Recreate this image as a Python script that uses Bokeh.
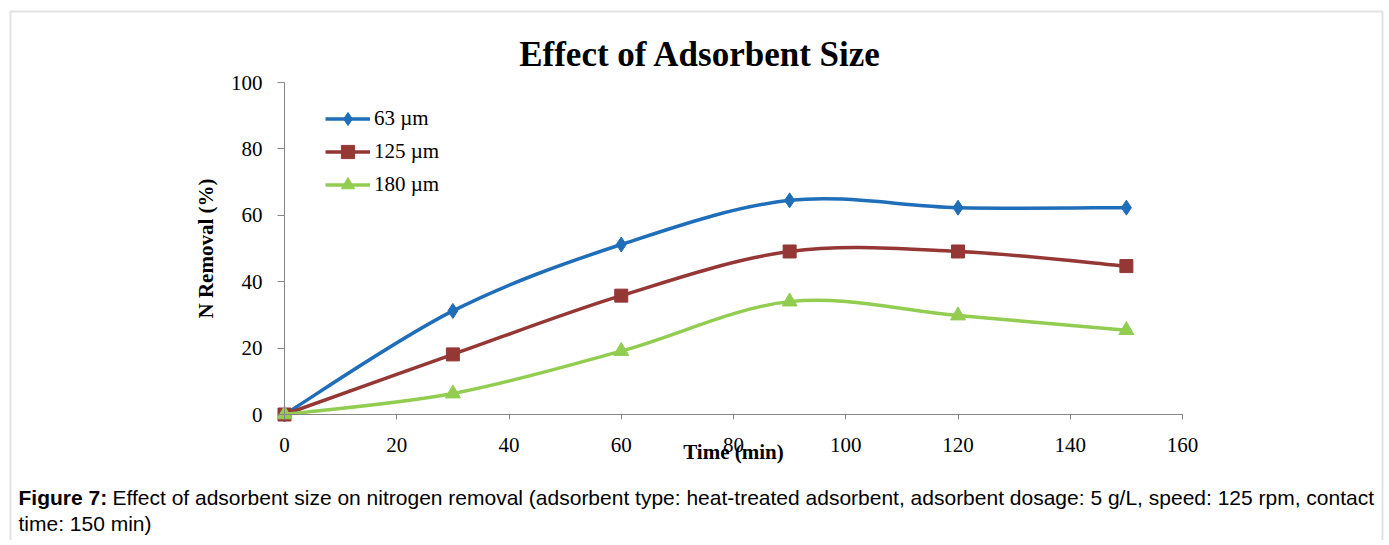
from bokeh.plotting import figure
from bokeh.models import Range1d, Label, Legend, LegendItem, BoxAnnotation, FixedTicker
from bokeh.embed import file_html
from bokeh.resources import INLINE

# ---- data ----
time_min = [0, 30, 60, 90, 120, 150]
removal_63 = [0, 31.2, 51.2, 64.5, 62.3, 62.3]
removal_125 = [0, 18.1, 35.8, 49.1, 49.1, 44.7]
removal_180 = [0, 6.3, 19.1, 34.0, 29.8, 25.4]
series_labels = ["63 µm", "125 µm", "180 µm"]
x_ticks = [0, 20, 40, 60, 80, 100, 120, 140, 160]
y_ticks = [0, 20, 40, 60, 80, 100]

colors = ["#1F6EB9", "#943735", "#92CD51"]
SERIF = "Liberation Serif"
SANS = "Liberation Sans"

# ---- layout geometry (pixels) ----
W, H = 1384, 540
X0_PX, X1_PX = 284, 1182     # pixel of x=0 and x=160
Y0_PX, Y1_PX = 414, 82       # pixel of y=0 and y=100
xs_per_px = (x_ticks[-1] - x_ticks[0]) / (X1_PX - X0_PX)
ys_per_px = (y_ticks[-1] - y_ticks[0]) / (Y0_PX - Y1_PX)
x_range = Range1d(-X0_PX * xs_per_px, (W - X0_PX) * xs_per_px)
y_range = Range1d(-(H - Y0_PX) * ys_per_px, Y0_PX * ys_per_px)

p = figure(width=W, height=H, output_backend="svg", toolbar_location=None,
           x_range=x_range, y_range=y_range,
           min_border_left=0, min_border_right=0, min_border_top=0, min_border_bottom=0)
p.outline_line_color = None
p.xgrid.visible = False
p.ygrid.visible = False
p.background_fill_color = "white"
p.border_fill_color = "white"

for ax in (p.xaxis[0], p.yaxis[0]):
    ax.fixed_location = 0
    ax.axis_line_color = "#868686"
    ax.major_tick_line_color = "#868686"
    ax.minor_tick_line_color = None
    ax.major_tick_in = 0
    ax.major_label_text_font = SERIF
    ax.major_label_text_font_size = "21px"
    ax.major_label_text_color = "black"
    ax.axis_label_text_font = SERIF
    ax.axis_label_text_font_style = "bold"
    ax.axis_label_text_color = "black"
    ax.axis_label_text_font_size = "21px"

p.xaxis.ticker = FixedTicker(ticks=x_ticks)
p.yaxis.ticker = FixedTicker(ticks=y_ticks)
p.xaxis.bounds = (x_ticks[0], x_ticks[-1])
p.yaxis.bounds = (y_ticks[0], y_ticks[-1])
p.xaxis.major_tick_out = 5
p.yaxis.major_tick_out = 7
p.xaxis.major_label_standoff = 18
p.yaxis.major_label_standoff = 15
p.xaxis.axis_label = "Time (min)"
p.xaxis.axis_label_standoff = -15
p.yaxis.axis_label = "N Removal (%)"
p.yaxis.axis_label_standoff = 10


def smooth_segments(xs, ys):
    n = len(xs)
    out = {k: [] for k in ("x0", "y0", "x1", "y1", "cx0", "cy0", "cx1", "cy1")}
    for i in range(n - 1):
        a = max(i - 1, 0)
        b = min(i + 2, n - 1)
        out["x0"].append(xs[i]); out["y0"].append(ys[i])
        out["x1"].append(xs[i + 1]); out["y1"].append(ys[i + 1])
        out["cx0"].append(xs[i] + (xs[i + 1] - xs[a]) / 6)
        out["cy0"].append(ys[i] + (ys[i + 1] - ys[a]) / 6)
        out["cx1"].append(xs[i + 1] - (xs[b] - xs[i]) / 6)
        out["cy1"].append(ys[i + 1] - (ys[b] - ys[i]) / 6)
    return out


markers = [("diamond", 15), ("square", 13), ("triangle", 15)]
items = []
series = [removal_63, removal_125, removal_180]
for ys, col, lab, (mk, sz) in zip(series, colors, series_labels, markers):
    seg = smooth_segments(time_min, ys)
    bz = p.bezier(line_color=col, line_width=3.5, **seg)
    sc = p.scatter(time_min, ys, marker=mk, size=sz, fill_color=col, line_color=col)
    items.append(LegendItem(label=lab, renderers=[bz, sc]))

legend = Legend(items=items, location=(325, H - 201), padding=0, margin=0,
                spacing=0, glyph_width=45, glyph_height=33, label_height=33,
                label_standoff=4, label_text_font=SERIF, label_text_font_size="21px",
                label_text_color="black",
                border_line_color=None, background_fill_alpha=0)
p.add_layout(legend, "center")


def sy(py):
    return H - py


p.add_layout(Label(x=700, y=sy(54), x_units="screen", y_units="screen",
                   text="Effect of Adsorbent Size", text_font=SERIF,
                   text_font_style="bold", text_font_size="35px", text_color="black",
                   text_align="center", text_baseline="middle"))
p.add_layout(Label(x=18, y=sy(497), x_units="screen", y_units="screen",
                   text="Figure 7:", text_font=SANS, text_font_style="bold",
                   text_font_size="21px", text_color="black", text_baseline="middle"))
p.add_layout(Label(x=112, y=sy(497), x_units="screen", y_units="screen",
                   text="Effect of adsorbent size on nitrogen removal (adsorbent type: heat-treated adsorbent, adsorbent dosage: 5 g/L, speed: 125 rpm, contact",
                   text_font=SANS, text_font_size="21px", text_color="black",
                   text_baseline="middle"))
p.add_layout(Label(x=18, y=sy(523), x_units="screen", y_units="screen",
                   text="time: 150 min)", text_font=SANS, text_font_size="21px",
                   text_color="black", text_baseline="middle"))

p.add_layout(BoxAnnotation(left=10, right=1382, top=sy(11), bottom=-20,
                           left_units="screen", right_units="screen",
                           top_units="screen", bottom_units="screen",
                           fill_alpha=0, line_color="#A0A0A0", line_width=2))

open("out.html", "w").write(file_html(p, INLINE))
